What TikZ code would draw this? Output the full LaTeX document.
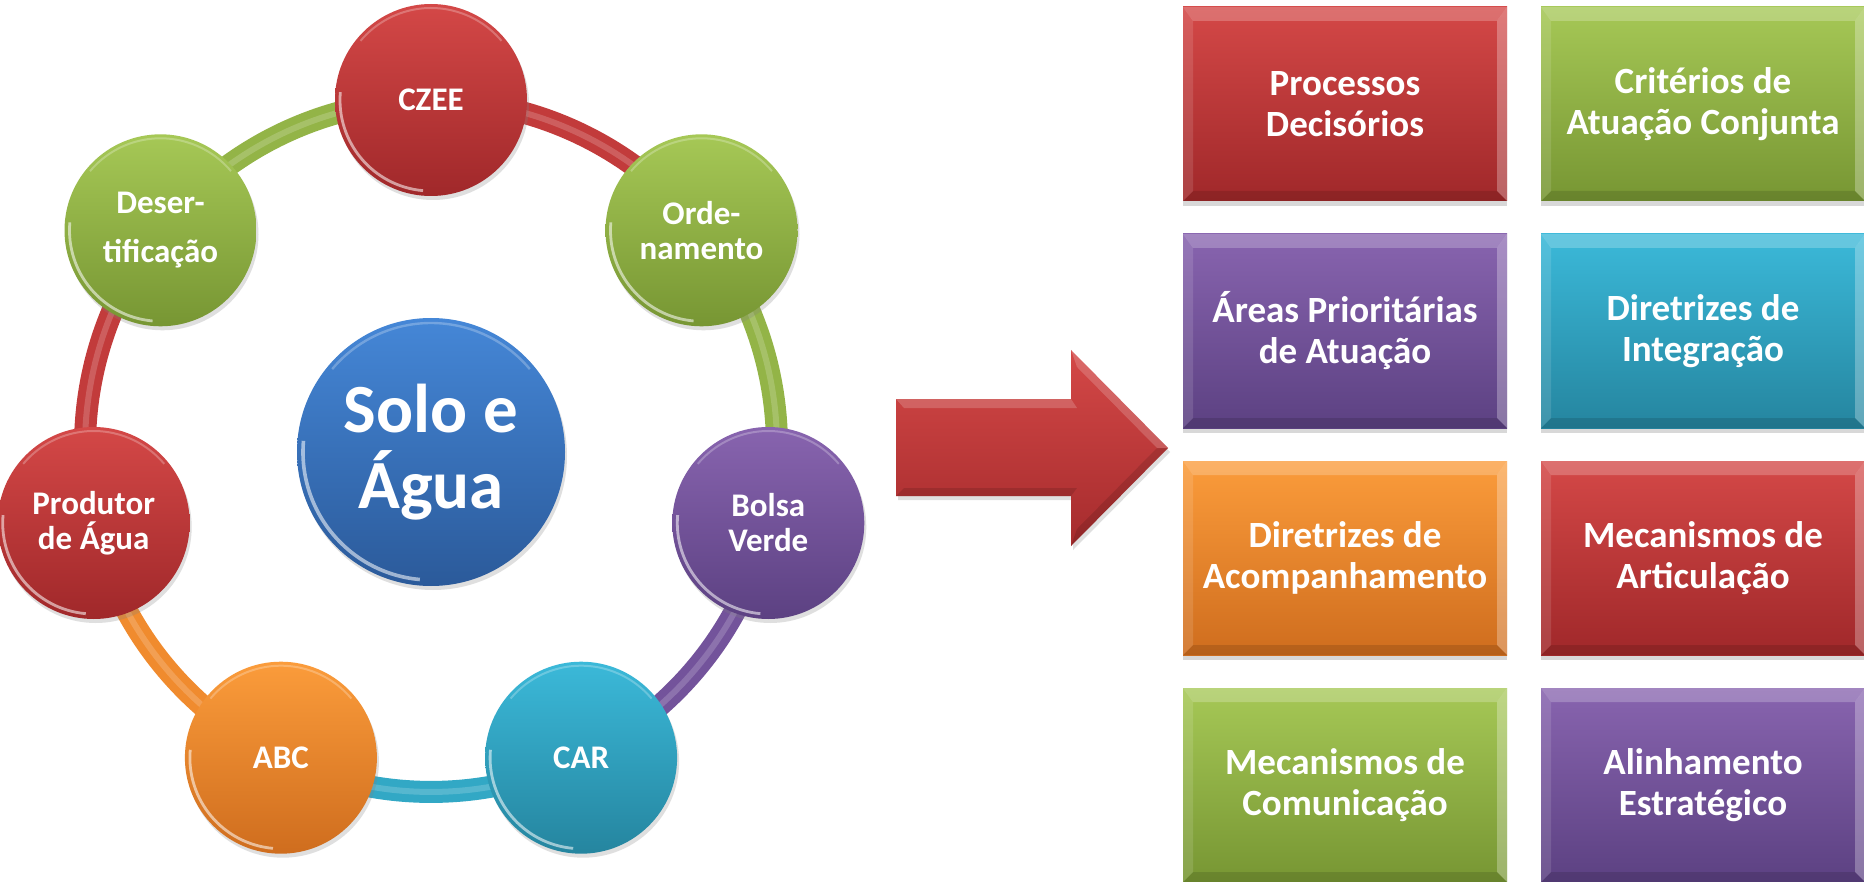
\documentclass[tikz,border=0pt]{standalone}
\usepackage{fontspec}
\setmainfont{Carlito}
\usetikzlibrary{shadows,calc}
\pgfdeclarelayer{bg}
\pgfsetlayers{bg,main}
\definecolor{redT}{HTML}{D44847}
\definecolor{redB}{HTML}{A0282A}
\definecolor{redM}{HTML}{C23B3B}
\definecolor{grnT}{HTML}{A6C856}
\definecolor{grnB}{HTML}{779633}
\definecolor{grnM}{HTML}{93B447}
\definecolor{purT}{HTML}{8864AF}
\definecolor{purB}{HTML}{5C4182}
\definecolor{purM}{HTML}{73539B}
\definecolor{cyaT}{HTML}{3BB9D9}
\definecolor{cyaB}{HTML}{25859F}
\definecolor{cyaM}{HTML}{32A8C5}
\definecolor{oraT}{HTML}{FB9C3B}
\definecolor{oraB}{HTML}{CF6D1E}
\definecolor{oraM}{HTML}{F08B2E}
\definecolor{bluT}{HTML}{4587D7}
\definecolor{bluB}{HTML}{2B5A9A}
\tikzset{
  bub/.style 2 args={circle, minimum size=96pt, inner sep=0pt, top color=#1, bottom color=#2,
    text=white, align=center, font=\bfseries\fontsize{16.5pt}{17.5pt}\selectfont,
    drop shadow={opacity=.25, shadow xshift=1pt, shadow yshift=-2pt},
    path picture={
      \draw[white, opacity=.55, line width=1.4pt]
        ($(path picture bounding box.center)+(175:45.5pt)$) arc[start angle=175, end angle=265, radius=45.5pt];
      \draw[white, opacity=.25, line width=1pt]
        ($(path picture bounding box.center)+(40:46pt)$) arc[start angle=40, end angle=140, radius=46pt];
    }},
  ringarc/.style={line width=11pt, draw=#1, line cap=butt,
    postaction={draw=white, draw opacity=.18, line width=3pt}},
  tile/.style 2 args={rectangle, minimum width=162pt, minimum height=97pt, inner sep=0pt,
    top color=#1, bottom color=#2, text=white, align=center,
    font=\bfseries\fontsize{18.5pt}{20.5pt}\selectfont,
    drop shadow={opacity=.3, shadow xshift=0pt, shadow yshift=-2.5pt},
    path picture={
      \fill[white, opacity=.22] (path picture bounding box.north west) -- (path picture bounding box.north east)
        -- ([shift={(-5pt,-7pt)}]path picture bounding box.north east) -- ([shift={(5pt,-7pt)}]path picture bounding box.north west) -- cycle;
      \fill[black, opacity=.12] (path picture bounding box.south west) -- (path picture bounding box.south east)
        -- ([shift={(-5pt,5pt)}]path picture bounding box.south east) -- ([shift={(5pt,5pt)}]path picture bounding box.south west) -- cycle;
      \fill[white, opacity=.12] (path picture bounding box.north west) -- ([shift={(5pt,-7pt)}]path picture bounding box.north west)
        -- ([shift={(5pt,5pt)}]path picture bounding box.south west) -- (path picture bounding box.south west) -- cycle;
      \fill[white, opacity=.28] (path picture bounding box.north east) -- ([shift={(-5pt,-7pt)}]path picture bounding box.north east)
        -- ([shift={(-5pt,5pt)}]path picture bounding box.south east) -- (path picture bounding box.south east) -- cycle;
    }}
}
\begin{document}
\begin{tikzpicture}[x=0.5pt, y=-0.5pt]
\useasboundingbox (0,0) rectangle (1864,882);
\begin{pgfonlayer}{bg}
\fill[white] (0,0) rectangle (1864,882);
\end{pgfonlayer}

% ring of circles
\node[bub={redT}{redB}] (czee) at (431,100) {CZEE};
\node[bub={grnT}{grnB}] (orde) at (701.5,230.3) {Orde-\\namento};
\node[bub={purT}{purB}] (bolsa) at (768.3,523) {Bolsa\\Verde};
\node[bub={cyaT}{cyaB}] (car) at (581.1,757.7) {CAR};
\node[bub={oraT}{oraB}] (abc) at (280.9,757.7) {ABC};
\node[bub={redT}{redB}] (prod) at (93.7,523) {Produtor\\de Água};
\node[bub={grnT}{grnB}] (deser) at (160.5,230.3) {Deser-\\[7pt]tificação};

% ring arcs (behind the circles)
\begin{pgfonlayer}{bg}
\draw[ringarc=redM] (czee.center) arc[start angle=-90, delta angle=51.43, radius=346];
\draw[ringarc=grnM] (orde.center) arc[start angle=-38.57, delta angle=51.43, radius=346];
\draw[ringarc=purM] (bolsa.center) arc[start angle=12.86, delta angle=51.43, radius=346];
\draw[ringarc=cyaM] (car.center) arc[start angle=64.29, delta angle=51.43, radius=346];
\draw[ringarc=oraM] (abc.center) arc[start angle=115.71, delta angle=51.43, radius=346];
\draw[ringarc=redM] (prod.center) arc[start angle=167.14, delta angle=51.43, radius=346];
\draw[ringarc=grnM] (deser.center) arc[start angle=218.57, delta angle=51.43, radius=346];
\end{pgfonlayer}

% centre
\node[circle, minimum size=134pt, inner sep=0pt, top color=bluT, bottom color=bluB,
  text=white, align=center, font=\bfseries\fontsize{34.5pt}{38pt}\selectfont,
  drop shadow={opacity=.25, shadow xshift=1pt, shadow yshift=-2pt},
  path picture={
    \draw[white, opacity=.55, line width=1.8pt]
      ($(path picture bounding box.center)+(175:64pt)$) arc[start angle=175, end angle=265, radius=64pt];
    \draw[white, opacity=.25, line width=1.2pt]
      ($(path picture bounding box.center)+(40:64.5pt)$) arc[start angle=40, end angle=140, radius=64.5pt];
  }] (solo) at (431,452) {Solo e\\Água};

% big arrow
\shade[top color=redT, bottom color=redB!90!redT, drop shadow={opacity=.25, shadow xshift=1pt, shadow yshift=-2pt}]
  (896,399) -- (1071,399) -- (1071,350) -- (1168,448) -- (1071,546) -- (1071,496) -- (896,496) -- cycle;
\fill[white, opacity=.18] (896,399) -- (1071,399) -- (1077,408) -- (904,408) -- cycle;
\fill[white, opacity=.18] (1071,350) -- (1168,448) -- (1157,448) -- (1077,367) -- cycle;
\fill[black, opacity=.12] (1168,448) -- (1071,546) -- (1077,529) -- (1157,448) -- cycle;
\fill[black, opacity=.12] (896,496) -- (1071,496) -- (1077,488) -- (904,488) -- cycle;

% tiles
\node[tile={redT}{redB}] (t1) at (1345,104) {Processos\\Decisórios};
\node[tile={grnT}{grnB}] (t2) at (1703,104) {Critérios de\\Atuação Conjunta};
\node[tile={purT}{purB}] (t3) at (1345,331) {Áreas Prioritárias\\de Atuação};
\node[tile={cyaT}{cyaB}] (t4) at (1703,331) {Diretrizes de\\Integração};
\node[tile={oraT}{oraB}] (t5) at (1345,558) {Diretrizes de\\Acompanhamento};
\node[tile={redT}{redB}] (t6) at (1703,558) {Mecanismos de\\Articulação};
\node[tile={grnT}{grnB}] (t7) at (1345,785) {Mecanismos de\\Comunicação};
\node[tile={purT}{purB}] (t8) at (1703,785) {Alinhamento\\Estratégico};
\end{tikzpicture}
\end{document}
